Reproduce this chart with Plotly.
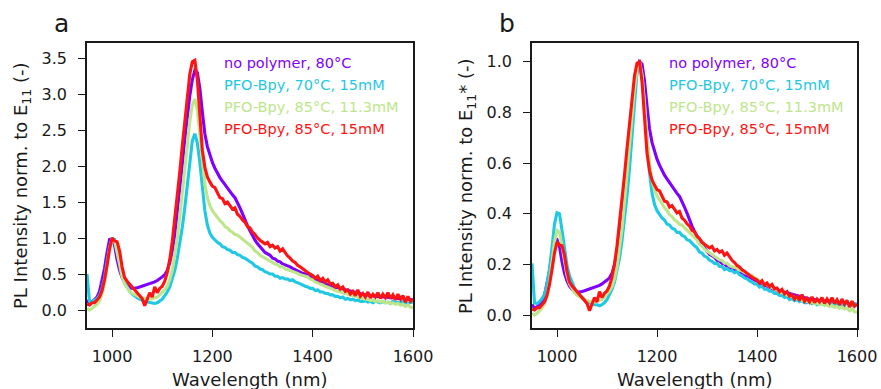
import numpy as np
import plotly.graph_objects as go

# ---------------- data ----------------
wavelength = list(range(950, 1605, 5))  # nm, sampling grid

no_polymer_80C = [
    0.14, 0.09, 0.11, 0.14, 0.18, 0.26, 0.40, 0.58, 0.80, 0.98,
    0.99, 0.90, 0.70, 0.55, 0.45, 0.38, 0.34, 0.31, 0.30, 0.30,
    0.31, 0.32, 0.33, 0.34, 0.36, 0.37, 0.38, 0.39, 0.41, 0.43,
    0.46, 0.49, 0.55, 0.66, 0.82, 1.05, 1.35, 1.68, 2.02, 2.38,
    2.70, 2.98, 3.20, 3.33, 3.30, 3.08, 2.75, 2.45, 2.27, 2.15,
    2.05, 1.97, 1.90, 1.84, 1.79, 1.74, 1.70, 1.65, 1.60, 1.56,
    1.50, 1.42, 1.34, 1.25, 1.17, 1.10, 1.03, 0.97, 0.92, 0.88,
    0.84, 0.80, 0.78, 0.76, 0.72, 0.71, 0.68, 0.67, 0.64, 0.63,
    0.61, 0.60, 0.58, 0.56, 0.55, 0.53, 0.51, 0.50, 0.48, 0.46,
    0.45, 0.42, 0.41, 0.39, 0.38, 0.36, 0.35, 0.34, 0.32, 0.32,
    0.31, 0.30, 0.29, 0.28, 0.27, 0.26, 0.25, 0.24, 0.23, 0.23,
    0.22, 0.21, 0.21, 0.20, 0.20, 0.19, 0.19, 0.18, 0.18, 0.18,
    0.17, 0.17, 0.17, 0.16, 0.16, 0.16, 0.15, 0.15, 0.15, 0.14,
    0.14,
]

pfo_70C_15mM = [
    0.50, 0.12, 0.11, 0.13, 0.16, 0.20, 0.30, 0.45, 0.65, 0.88,
    0.99, 0.98, 0.82, 0.62, 0.48, 0.38, 0.31, 0.26, 0.22, 0.19,
    0.17, 0.15, 0.13, 0.12, 0.11, 0.10, 0.10, 0.09, 0.10, 0.12,
    0.15, 0.20, 0.25, 0.32, 0.42, 0.55, 0.72, 0.92, 1.15, 1.42,
    1.72, 2.05, 2.35, 2.45, 2.32, 2.05, 1.70, 1.38, 1.18, 1.07,
    1.01, 0.97, 0.94, 0.92, 0.88, 0.87, 0.84, 0.83, 0.80, 0.80,
    0.77, 0.76, 0.73, 0.72, 0.69, 0.67, 0.65, 0.61, 0.60, 0.57,
    0.56, 0.53, 0.52, 0.50, 0.50, 0.47, 0.47, 0.44, 0.45, 0.43,
    0.43, 0.41, 0.42, 0.39, 0.38, 0.36, 0.35, 0.33, 0.32, 0.30,
    0.30, 0.27, 0.28, 0.25, 0.25, 0.23, 0.23, 0.21, 0.21, 0.19,
    0.19, 0.17, 0.18, 0.15, 0.16, 0.14, 0.15, 0.13, 0.14, 0.12,
    0.12, 0.13, 0.11, 0.12, 0.10, 0.12, 0.11, 0.10, 0.12, 0.10,
    0.11, 0.09, 0.12, 0.10, 0.11, 0.09, 0.13, 0.10, 0.09, 0.11,
    0.10,
]

pfo_85C_11mM = [
    0.02, 0.00, 0.02, 0.05, 0.08, 0.13, 0.22, 0.38, 0.60, 0.85,
    0.98, 0.96, 0.80, 0.60, 0.46, 0.36, 0.30, 0.26, 0.23, 0.21,
    0.19, 0.18, 0.17, 0.16, 0.15, 0.15, 0.16, 0.17, 0.18, 0.21,
    0.24, 0.28, 0.33, 0.42, 0.55, 0.75, 1.00, 1.30, 1.62, 1.97,
    2.32, 2.62, 2.85, 2.93, 2.78, 2.45, 2.05, 1.75, 1.56, 1.45,
    1.38, 1.33, 1.29, 1.24, 1.21, 1.16, 1.14, 1.10, 1.08, 1.05,
    1.04, 1.01, 0.99, 0.96, 0.93, 0.89, 0.87, 0.82, 0.80, 0.76,
    0.74, 0.71, 0.70, 0.67, 0.66, 0.64, 0.63, 0.60, 0.60, 0.57,
    0.56, 0.55, 0.54, 0.52, 0.51, 0.49, 0.48, 0.46, 0.46, 0.43,
    0.42, 0.39, 0.38, 0.36, 0.35, 0.33, 0.32, 0.30, 0.29, 0.27,
    0.26, 0.25, 0.23, 0.22, 0.22, 0.20, 0.19, 0.19, 0.17, 0.17,
    0.16, 0.15, 0.15, 0.13, 0.14, 0.12, 0.13, 0.11, 0.12, 0.10,
    0.11, 0.09, 0.10, 0.08, 0.09, 0.07, 0.08, 0.05, 0.07, 0.04,
    0.03,
]

pfo_85C_15mM = [
    0.08, 0.07, 0.10, 0.10, 0.14, 0.18, 0.27, 0.42, 0.62, 0.85,
    1.00, 0.96, 0.95, 0.82, 0.60, 0.45, 0.40, 0.36, 0.33, 0.28,
    0.24, 0.20, 0.16, 0.06, 0.14, 0.24, 0.18, 0.32, 0.24, 0.30,
    0.33, 0.40, 0.52, 0.70, 0.95, 1.25, 1.58, 1.92, 2.28, 2.65,
    3.00, 3.28, 3.45, 3.47, 3.20, 2.65, 2.22, 1.98, 1.85, 1.78,
    1.72, 1.70, 1.62, 1.56, 1.55, 1.48, 1.50, 1.44, 1.40, 1.42,
    1.33, 1.30, 1.25, 1.22, 1.16, 1.14, 1.08, 1.05, 1.00, 0.97,
    0.95, 0.92, 0.94, 0.88, 0.90, 0.86, 0.88, 0.82, 0.85, 0.80,
    0.75, 0.72, 0.68, 0.66, 0.62, 0.60, 0.57, 0.55, 0.52, 0.50,
    0.48, 0.44, 0.47, 0.41, 0.44, 0.39, 0.42, 0.36, 0.37, 0.32,
    0.35, 0.29, 0.32, 0.26, 0.28, 0.22, 0.26, 0.20, 0.28, 0.19,
    0.23, 0.18, 0.25, 0.17, 0.22, 0.18, 0.24, 0.16, 0.22, 0.17,
    0.24, 0.16, 0.21, 0.14, 0.22, 0.15, 0.20, 0.11, 0.19, 0.12,
    0.15,
]

series_names = ["no polymer, 80°C", "PFO-Bpy, 70°C, 15mM",
                "PFO-Bpy, 85°C, 11.3mM", "PFO-Bpy, 85°C, 15mM"]
series_values = [no_polymer_80C, pfo_70C_15mM, pfo_85C_11mM, pfo_85C_15mM]
series_colors = ["#7f00ff", "#1fc8e3", "#bde68b", "#ff1414"]

x_ticks = [1000, 1200, 1400, 1600]
ya_ticks = [0.0, 0.5, 1.0, 1.5, 2.0, 2.5, 3.0, 3.5]
yb_ticks = [0.0, 0.2, 0.4, 0.6, 0.8, 1.0]
panel_labels = ["a", "b"]
x_title = "Wavelength (nm)"
ya_title = "PL Intensity norm. to E<sub>11</sub> (-)"
yb_title = "PL Intensity norm. to E<sub>11</sub>* (-)"

# ---------------- layout geometry (pixels) ----------------
W, H = 881, 389
FONT = "DejaVu Sans"
INK = "#1a1a1a"


def px(x):
    return x / W


def py(y):
    return 1 - y / H


fig = go.Figure()
for name, vals, col in zip(series_names, series_values, series_colors):
    a = np.array(vals, dtype=float)
    fig.add_trace(go.Scatter(x=wavelength, y=a, mode="lines", name=name,
                             xaxis="x", yaxis="y", showlegend=False,
                             line=dict(color=col, width=3.1)))
    fig.add_trace(go.Scatter(x=wavelength, y=a / a.max(), mode="lines", name=name,
                             xaxis="x2", yaxis="y2", showlegend=False,
                             line=dict(color=col, width=3.1)))

axis_common = dict(showline=True, mirror=True, linecolor=INK, linewidth=1.5,
                   ticks="outside", ticklen=7, tickwidth=1.3, tickcolor=INK,
                   showgrid=False, zeroline=False, automargin=False,
                   tickfont=dict(family=FONT, size=16, color=INK))

ydom = [py(328), py(43)]
fig.update_layout(
    template="none",
    width=W, height=H, autosize=False,
    margin=dict(l=0, r=0, t=0, b=0, pad=0),
    paper_bgcolor="white", plot_bgcolor="white",
    xaxis=dict(axis_common, domain=[px(87), px(413)], range=[950, 1600],
               tickvals=x_ticks, anchor="y", ticklabelstandoff=6),
    yaxis=dict(axis_common, domain=ydom, range=[-0.25, 3.71],
               tickvals=ya_ticks, tickformat=".1f", anchor="x", ticklabelstandoff=8),
    xaxis2=dict(axis_common, domain=[px(532), px(857)], range=[950, 1600],
                tickvals=x_ticks, anchor="y2", ticklabelstandoff=6),
    yaxis2=dict(axis_common, domain=ydom, range=[-0.051, 1.074],
                tickvals=yb_ticks, tickformat=".1f", anchor="x2", ticklabelstandoff=8),
)

ann = []
# panel letters
for lab, xc in zip(panel_labels, [61, 507]):
    ann.append(dict(text=lab, x=px(xc), y=py(23), xref="paper", yref="paper",
                    xanchor="center", yanchor="middle", showarrow=False,
                    font=dict(family=FONT, size=25, color=INK)))
# axis titles
for xc in [250, 694.5]:
    ann.append(dict(text=x_title, x=px(xc), y=py(379), xref="paper", yref="paper",
                    xanchor="center", yanchor="middle", showarrow=False,
                    font=dict(family=FONT, size=18, color=INK)))
for t, xc in [(ya_title, 22), (yb_title, 467)]:
    ann.append(dict(text=t, x=px(xc), y=py(186), xref="paper", yref="paper",
                    xanchor="center", yanchor="middle", showarrow=False, textangle=-90,
                    font=dict(family=FONT, size=18, color=INK)))
# text legends
for xl in [221.5, 666.5]:
    for i, (name, col) in enumerate(zip(series_names, series_colors)):
        ann.append(dict(text=name, x=px(xl), y=py(63 + 22 * i), xref="paper", yref="paper",
                        xanchor="left", yanchor="middle", showarrow=False,
                        font=dict(family=FONT, size=14.5, color=col)))
fig.update_layout(annotations=ann)

post = ("document.documentElement.style.overflow='hidden';"
        "document.body.style.margin='0';"
        "document.body.style.overflow='hidden';")

fig.write_html("out.html", config={"responsive": False}, post_script=post)
